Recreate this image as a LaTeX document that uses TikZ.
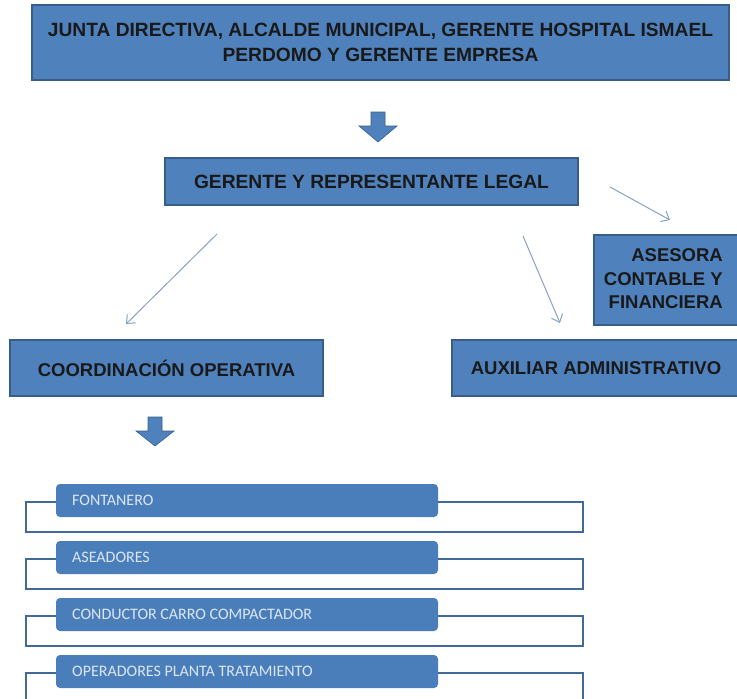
\documentclass[tikz,border=0pt]{standalone}
\usepackage{fontspec}
\usetikzlibrary{arrows.meta,calc}
\newfontfamily\nbfont{Liberation Sans Bold}
\newfontfamily\calfont{Carlito}
\definecolor{boxblue}{HTML}{4F81BD}
\definecolor{boxedge}{HTML}{385D8A}
\definecolor{itemblue}{HTML}{4A7EBB}
\definecolor{framecol}{HTML}{41699A}
\definecolor{thinarr}{HTML}{8AA2C4}
\definecolor{itemtext}{HTML}{DCE6F2}
\begin{document}
\begin{tikzpicture}[x=1pt,y=-1pt,
  mainbox/.style={draw=boxedge,line width=1.2pt,fill=boxblue,inner sep=0pt,
    font=\nbfont\fontsize{19.2}{25.5}\selectfont,text=black!90,align=center},
  itembox/.style={fill=itemblue,rounded corners=4pt,inner sep=0pt,
    minimum width=382pt,minimum height=33pt},
  itemtxt/.style={anchor=west,inner sep=0pt,text=itemtext,
    font=\calfont\fontsize{16}{18}\selectfont},
  frameline/.style={draw=framecol,line width=2.2pt},
  thinarrow/.style={draw=thinarr,line width=1pt,-{Straight Barb[length=7pt,width=12pt]}},
  blockarrow/.style={fill=boxblue,draw=boxedge,line width=0.6pt}]
\useasboundingbox (0,0) rectangle (737,699);
\fill[white] (0,0) rectangle (737,699);

% top boxes
\node[mainbox,minimum width=697pt,minimum height=75pt] (junta) at (380.5,42.5)
  {JUNTA DIRECTIVA, ALCALDE MUNICIPAL, GERENTE HOSPITAL ISMAEL\\PERDOMO Y GERENTE EMPRESA};
\node[mainbox,minimum width=413pt,minimum height=47pt] (ger) at (371.5,181.5)
  {GERENTE Y REPRESENTANTE LEGAL};
\node[mainbox,minimum width=151pt,minimum height=90pt] (asesbox) at (669.5,280) {};
\node[anchor=east,inner sep=0pt,align=right,text=black!90,
  font=\nbfont\fontsize{18.5}{23.5}\selectfont] (asestxt) at (723,279)
  {ASESORA\\CONTABLE Y\\FINANCIERA};
\node[mainbox,minimum width=313pt,minimum height=56pt,
  font=\nbfont\fontsize{18.5}{25}\selectfont] (coord) at (166.5,368)
  {COORDINACIÓN OPERATIVA};
\node[mainbox,minimum width=288pt,minimum height=56pt,
  font=\nbfont\fontsize{18.5}{25}\selectfont] (aux) at (596,368)
  {AUXILIAR ADMINISTRATIVO};

% block arrows
\draw[blockarrow] (371,112) -- (385,112) -- (385,126) -- (397,126) -- (378,142)
  -- (359,126) -- (371,126) -- cycle;
\draw[blockarrow] (148,417) -- (162,417) -- (162,431) -- (174,431) -- (155,446)
  -- (136,431) -- (148,431) -- cycle;

% thin arrows
\coordinate (a1s) at (610,187); \coordinate (a1e) at (670,220);
\coordinate (a2s) at (217,234); \coordinate (a2e) at (126,324);
\coordinate (a3s) at (523,236); \coordinate (a3e) at (560,323);
\draw[thinarrow] (a1s) -- (a1e);
\draw[thinarrow] (a2s) -- (a2e);
\draw[thinarrow] (a3s) -- (a3e);

% bottom list
\foreach \i/\t in {0/FONTANERO,1/ASEADORES,2/CONDUCTOR CARRO COMPACTADOR,3/OPERADORES PLANTA TRATAMIENTO}{
  \draw[frameline] (26,502+57*\i) rectangle (583,532+57*\i);
  \node[itembox] (item\i) at (247,500.5+57*\i) {};
  \node[itemtxt] (itemtxt\i) at (72,500.5+57*\i) {\t};
}
\end{tikzpicture}
\end{document}
